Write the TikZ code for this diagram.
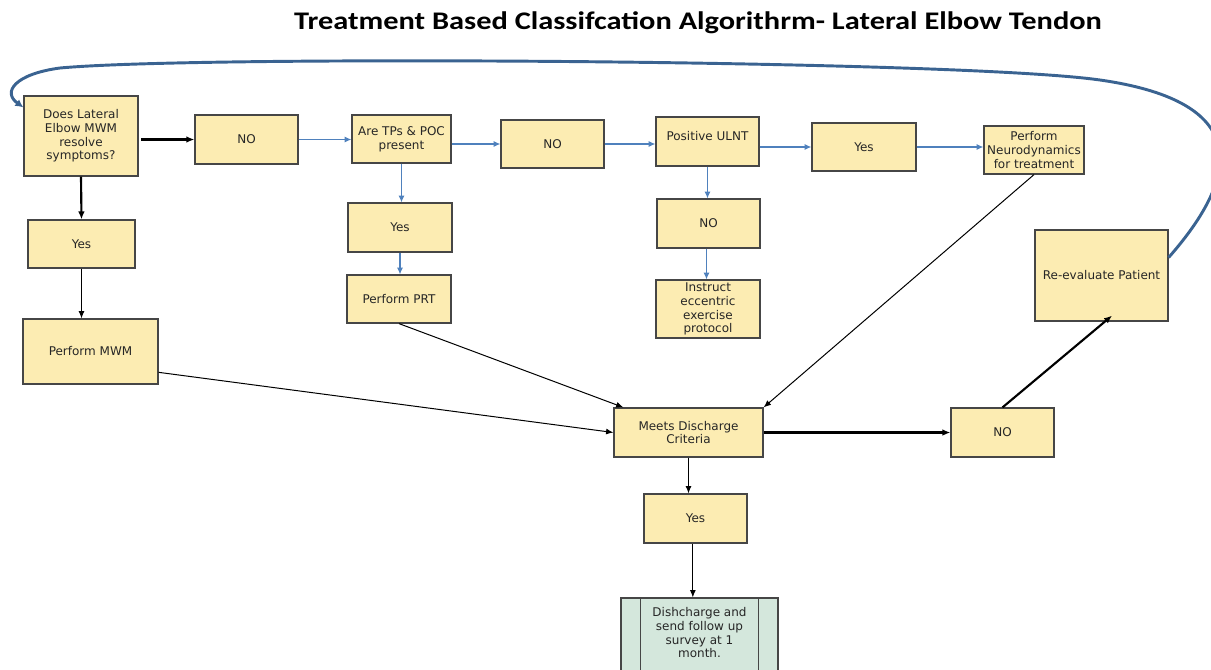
\documentclass[tikz,border=0pt]{standalone}
\usepackage{fontspec}
\setmainfont{DejaVu Sans}
\newfontfamily\titlefont{Carlito}
\usetikzlibrary{arrows.meta,calc}
\definecolor{boxfill}{RGB}{252,236,178}
\definecolor{boxdraw}{RGB}{70,70,70}
\definecolor{flowblue}{RGB}{79,129,189}
\definecolor{loopblue}{RGB}{58,99,145}
\definecolor{endfill}{RGB}{212,231,220}
\begin{document}
\begin{tikzpicture}[x=0.75pt,y=-0.75pt,
  box/.style={draw=boxdraw, line width=0.9pt, fill=boxfill, align=center, inner sep=0pt,
    font=\fontsize{9}{10.3}\selectfont, text=black!85},
  endbox/.style={box, fill=endfill},
  bluearrow/.style={draw=flowblue, line width=0.9pt, -{Latex[length=5pt,width=4.5pt]}},
  thinarrow/.style={draw=black, line width=0.75pt, -{Latex[length=5.5pt,width=4.5pt]}},
  thickarrow/.style={draw=black, line width=1.6pt, -{Latex[length=6pt,width=5pt]}},
  looparrow/.style={draw=loopblue, line width=2.2pt, -{Latex[length=6pt,width=6pt]}},
  titletext/.style={font=\titlefont\bfseries\fontsize{19}{22}\selectfont, anchor=base, inner sep=0pt}]
\useasboundingbox (0,0) rectangle (1211,669);

\node[titletext] (title) at (698,29) {\scalebox{1.2}[1]{Treatment Based Classifcation Algorithrm- Lateral Elbow Tendon}};

% boxes
\node[box, minimum width=85.5pt, minimum height=60pt] (q1) at (81,136) {Does Lateral\\Elbow MWM\\resolve\\symptoms?};
\node[box, minimum width=77.25pt, minimum height=36.75pt] (no1) at (246.5,139.5) {NO};
\node[box, minimum width=74.25pt, minimum height=36pt] (q2) at (401.5,139) {Are TPs \& POC\\present};
\node[box, minimum width=77.25pt, minimum height=36pt] (no2) at (552.5,144) {NO};
\node[box, minimum width=77.25pt, minimum height=36.75pt] (ulnt) at (707.5,141.5) {\raisebox{9pt}{Positive ULNT}};
\node[box, minimum width=78pt, minimum height=36pt] (yes1) at (864,147) {Yes};
\node[box, minimum width=75pt, minimum height=36pt] (neuro) at (1034,150) {Perform\\Neurodynamics\\for treatment};
\node[box, minimum width=78pt, minimum height=36.75pt] (yesm) at (400,227.5) {Yes};
\node[box, minimum width=78pt, minimum height=36pt] (prt) at (399,299) {Perform PRT};
\node[box, minimum width=77.25pt, minimum height=36.75pt] (nom) at (708.5,223.5) {NO};
\node[box, minimum width=78pt, minimum height=43.5pt] (instr) at (708,309) {Instruct\\eccentric\\exercise\\protocol};
\node[box, minimum width=80.25pt, minimum height=36pt] (yesl) at (81.5,244) {Yes};
\node[box, minimum width=101.25pt, minimum height=48.75pt] (mwm) at (90.5,351.5) {Perform MWM};
\node[box, minimum width=111.75pt, minimum height=36.75pt] (meets) at (688.5,432.5) {Meets Discharge\\Criteria};
\node[box, minimum width=77.25pt, minimum height=36.75pt] (yesb) at (695.5,518.5) {Yes};
\node[box, minimum width=77.25pt, minimum height=36.75pt] (nor) at (1002.5,432.5) {NO};
\node[box, minimum width=99.75pt, minimum height=68.25pt] (reeval) at (1101.5,275.5) {Re-evaluate Patient};
\node[endbox, minimum width=117.75pt, minimum height=61.5pt] (dis) at (699.5,639) {\raisebox{25pt}{\begin{tabular}{@{}c@{}}Dishcharge and\\send follow up\\survey at 1\\month.\end{tabular}}};
\draw[boxdraw, line width=0.9pt] ([xshift=15pt]dis.north west) -- ([xshift=15pt]dis.south west);
\draw[boxdraw, line width=0.9pt] ([xshift=-15pt]dis.north east) -- ([xshift=-15pt]dis.south east);

% connectors
\draw[thickarrow] ([xshift=2pt]q1.east |- no1.west) -- (no1.west);
\draw[bluearrow] (no1.east) -- (q2.west |- no1.east);
\draw[bluearrow] (q2.east |- no2.west) -- (no2.west);
\draw[bluearrow] (no2.east) -- (ulnt.west |- no2.east);
\draw[bluearrow] (ulnt.east |- yes1.west) -- (yes1.west);
\draw[bluearrow] (yes1.east) -- (neuro.west |- yes1.east);
\draw[thickarrow] (q1.south) -- (yesl.north);
\draw[thinarrow] (yesl.south) -- (yesl.south |- mwm.north);
\draw[bluearrow] (q2.south) -- (q2.south |- yesm.north);
\draw[bluearrow] (yesm.south) -- (yesm.south |- prt.north);
\draw[bluearrow] (ulnt.south) -- (ulnt.south |- nom.north);
\draw[bluearrow] ([xshift=-1.5pt]nom.south) -- ([xshift=-1.5pt]nom.south |- instr.north);
\draw[thinarrow] (mwm.-17) -- (meets.west);
\draw[thinarrow] (prt.south) -- ([xshift=7.5pt]meets.north west);
\draw[thinarrow] (neuro.south) -- (meets.north east);
\draw[thickarrow] (meets.east) -- (nor.west);
\draw[thickarrow] (nor.north) -- ([xshift=7.9pt,yshift=4.5pt]reeval.south);
\draw[thinarrow] (meets.south) -- (meets.south |- yesb.north);
\draw[thinarrow] ([xshift=-2pt]yesb.south) -- ([xshift=-2pt]yesb.south |- dis.north);
\draw[looparrow] (reeval.15) .. controls (1250,165) and (1240,100) .. (1100,80)
  .. controls (960,60) and (200,55) .. (60,68)
  .. controls (15,74) and (2,92) .. ([yshift=-9pt]q1.north west);
\end{tikzpicture}
\end{document}
